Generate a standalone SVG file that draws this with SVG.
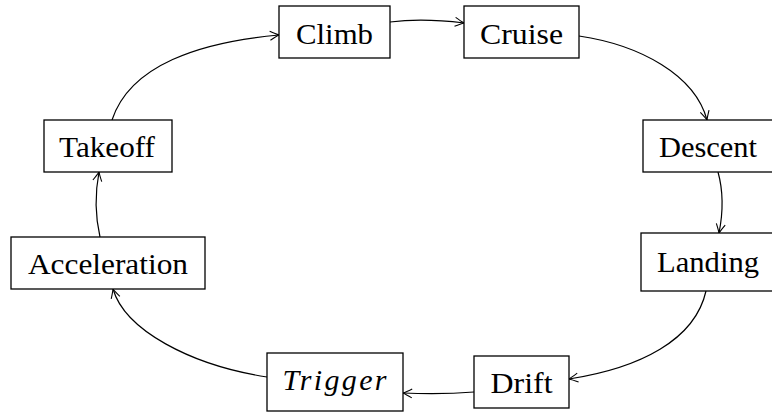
<svg xmlns="http://www.w3.org/2000/svg" width="772" height="414" viewBox="0 0 772 414">
<style>
.box{fill:#fff;stroke:#000;stroke-width:1.3}
.lbl{font-family:"Liberation Serif","DejaVu Serif",serif;font-size:30px;fill:#000;text-anchor:middle}
.it{font-style:italic}
.edge{fill:none;stroke:#000;stroke-width:1.2;marker-end:url(#arr)}
</style>
<defs>
<marker id="arr" markerUnits="userSpaceOnUse" markerWidth="14" markerHeight="14" viewBox="-11 -7 14 14" refX="0" refY="0" orient="auto">
<path d="M-9,-4.5 Q-3,-1.2 0,0 Q-3,1.2 -9,4.5" fill="none" stroke="#000" stroke-width="1.1"/>
</marker>
</defs>
<rect width="772" height="414" fill="#fff"/>
<g id="connectors">
<path class="edge" d="M112,120 C130,65 200,42 279,35"/>
<path class="edge" d="M390,22 C413,19 440,20 464,23"/>
<path class="edge" d="M579,36 C640,45 695,75 707,120"/>
<path class="edge" d="M718,172 C723,190 723,213 719,233"/>
<path class="edge" d="M706,291 C695,340 640,368 569,379"/>
<path class="edge" d="M474,392 C450,394 425,394 403,393"/>
<path class="edge" d="M267,377 C190,365 125,330 113,289"/>
<path class="edge" d="M100,237 C95,215 95,193 99,172"/>
</g>
<g id="climb"><rect class="box" x="279" y="6" width="111" height="52"/><text class="lbl" x="334.5" y="44" textLength="77" lengthAdjust="spacingAndGlyphs">Climb</text></g>
<g id="cruise"><rect class="box" x="464" y="6" width="115" height="52"/><text class="lbl" x="521.5" y="44" textLength="83" lengthAdjust="spacingAndGlyphs">Cruise</text></g>
<g id="descent"><rect class="box" x="643" y="120" width="130" height="52"/><text class="lbl" x="708" y="157" textLength="98" lengthAdjust="spacingAndGlyphs">Descent</text></g>
<g id="landing"><rect class="box" x="641" y="233" width="134" height="58"/><text class="lbl" x="708" y="272" textLength="102" lengthAdjust="spacingAndGlyphs">Landing</text></g>
<g id="drift"><rect class="box" x="474" y="356" width="95" height="52"/><text class="lbl" x="521.5" y="393" textLength="62" lengthAdjust="spacingAndGlyphs">Drift</text></g>
<g id="trigger"><rect class="box" x="267" y="353" width="136" height="58"/><text class="lbl it" x="334.5" y="390" textLength="104" lengthAdjust="spacing">Trigger</text></g>
<g id="acceleration"><rect class="box" x="11" y="237" width="194" height="52"/><text class="lbl" x="108" y="274" textLength="160" lengthAdjust="spacingAndGlyphs">Acceleration</text></g>
<g id="takeoff"><rect class="box" x="44" y="120" width="128" height="52"/><text class="lbl" x="107" y="157" textLength="96" lengthAdjust="spacingAndGlyphs">Takeoff</text></g>
</svg>
